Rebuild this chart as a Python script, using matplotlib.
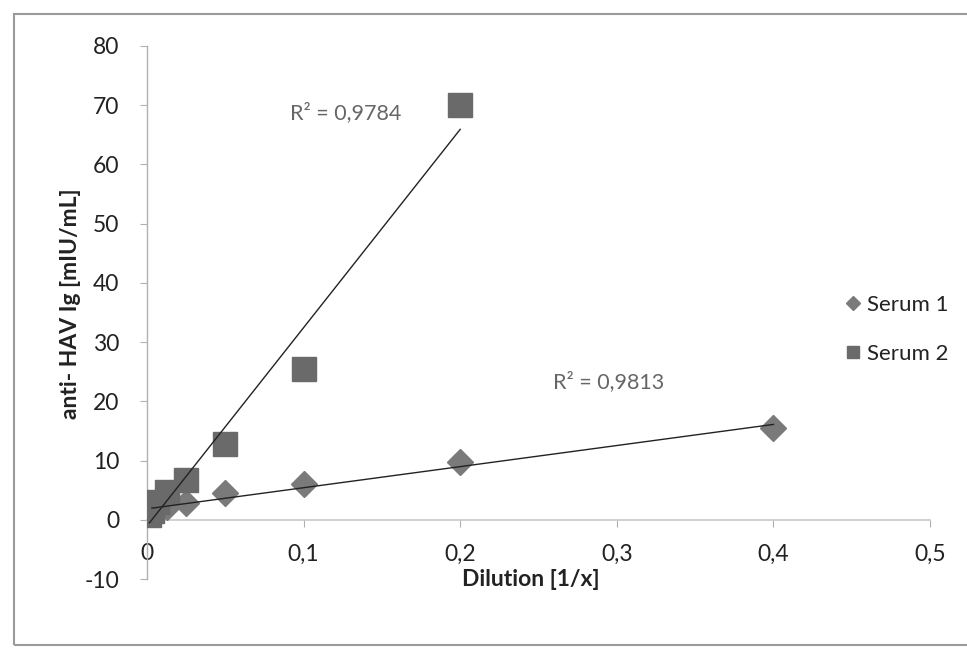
import numpy as np
import matplotlib
matplotlib.use("Agg")
import matplotlib.pyplot as plt
from matplotlib.patches import Rectangle

plt.rcParams['font.family'] = ['Lato', 'DejaVu Sans']
plt.rcParams['axes.unicode_minus'] = False

# Data
serum1_x = [0.4, 0.2, 0.1, 0.05, 0.025, 0.0125, 0.00625, 0.003125]
serum1_y = [15.5, 9.7, 6.0, 4.5, 2.8, 2.2, 1.5, 1.0]
serum2_x = [0.2, 0.1, 0.05, 0.025, 0.0125, 0.00625, 0.003125, 0.0015625]
serum2_y = [70.0, 25.5, 12.8, 6.8, 4.7, 3.0, 1.5, 0.8]
r2_labels = ["R² = 0,9813", "R² = 0,9784"]
series_names = ["Serum 1", "Serum 2"]
x_ticks = [0, 0.1, 0.2, 0.3, 0.4, 0.5]
x_ticklabels = ["0", "0,1", "0,2", "0,3", "0,4", "0,5"]
y_ticks = [-10, 0, 10, 20, 30, 40, 50, 60, 70, 80]

fig = plt.figure(figsize=(9.67, 6.5), dpi=100)
fig.patches.append(Rectangle((14/967, 5/650), 1.2, 1 - 19/650, transform=fig.transFigure,
                             fill=False, edgecolor='#9a9a9a', linewidth=1.5))
ax = fig.add_axes([147/967, 1 - 579/650, 783/967, 533/650])

c1 = '#7a7a7a'
c2 = '#6a6a6a'
ax.plot(serum1_x, serum1_y, linestyle='none', marker='D', ms=13, color=c1,
        markeredgecolor=c1, label=series_names[0], zorder=3)
ax.plot(serum2_x, serum2_y, linestyle='none', marker='s', ms=17, color=c2,
        markeredgecolor=c2, label=series_names[1], zorder=3)

# linear trendlines
for xs, ys in [(serum1_x, serum1_y), (serum2_x, serum2_y)]:
    xs = np.array(xs); ys = np.array(ys)
    k, b = np.polyfit(xs, ys, 1)
    xl = np.array([xs.min(), xs.max()])
    ax.plot(xl, k * xl + b, color='#222222', linewidth=1.0, zorder=4)

ax.text(0.259, 23.3, r2_labels[0], fontsize=15.5, color='#666666', va='center', ha='left')
ax.text(0.0914, 68.7, r2_labels[1], fontsize=15.5, color='#666666', va='center', ha='left')

ax.set_xlim(0, 0.5)
ax.set_ylim(-10, 80)
ax.set_xticks(x_ticks)
ax.set_xticklabels(x_ticklabels)
ax.set_yticks(y_ticks)

for s in ['top', 'right']:
    ax.spines[s].set_visible(False)
ax.spines['bottom'].set_position(('data', 0))
ax.spines['bottom'].set_color('#c8c8c8')
ax.spines['left'].set_color('#b0b0b0')
ax.spines['bottom'].set_linewidth(1.2)
ax.spines['left'].set_linewidth(1.0)
ax.tick_params(axis='x', direction='out', length=5, color='#b0b0b0', labelsize=16.5, pad=12, labelcolor='#222222')
ax.tick_params(axis='y', direction='out', length=5, color='#b0b0b0', labelsize=16.5, pad=15, labelcolor='#222222')

ax.set_xlabel("Dilution [1/x]", fontsize=16.5, fontweight='bold', color='#222222', va='center')
ax.xaxis.set_label_coords(0.49, 0.0)
ax.set_ylabel("anti- HAV Ig [mIU/mL]", fontsize=16.5, fontweight='bold', color='#222222', va='center')
ax.yaxis.set_label_coords(-0.098, 0.517)

leg = ax.legend(loc='upper left', bbox_to_anchor=(0.868, 0.57), frameon=False, fontsize=16,
                markerscale=0.55, handlelength=0.6, handletextpad=0.3, labelspacing=1.3)
for t in leg.get_texts():
    t.set_color('#222222')

fig.savefig("out.png", dpi=100, facecolor='white')
